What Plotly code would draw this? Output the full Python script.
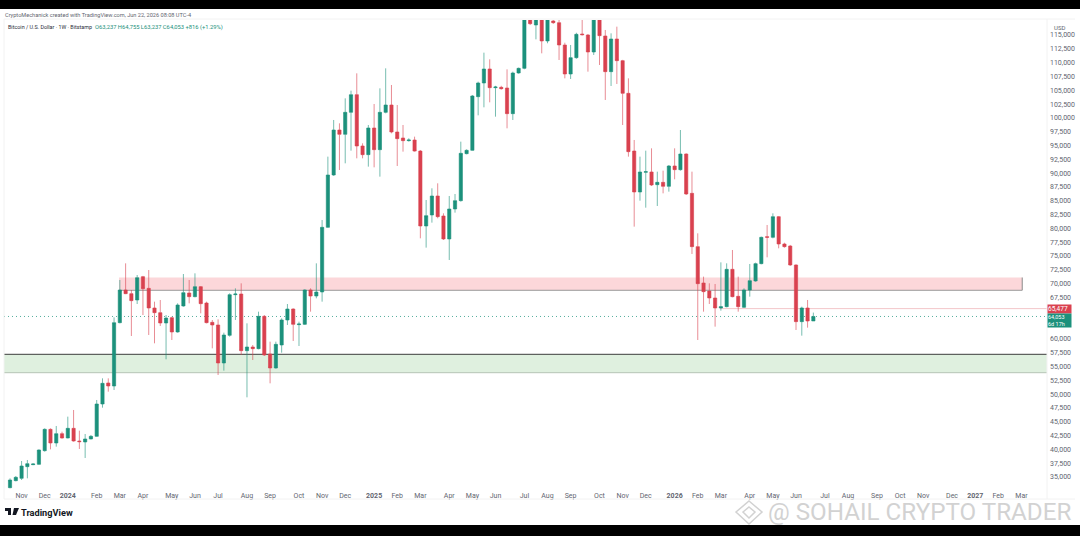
import pandas as pd
import plotly.graph_objects as go

W, H = 1080, 536

# weekly candles, Bitstamp BTCUSD
weeks = pd.date_range("2023-10-23", periods=140, freq="7D")

open_ = [33070, 34337, 34759, 36870, 37232, 37292, 39766, 43627, 41154, 42843,
         42058, 43808, 41515, 41335, 41877, 42360, 48212, 52014, 51470, 62933,
         68845, 68182, 67035, 71258, 69147, 65588, 64743, 62873, 63838, 61244,
         65950, 68303, 67639, 69449, 66492, 62993, 62511, 55633, 60640, 68001,
         68121, 57865, 58529, 58227, 64079, 57262, 54728, 58891, 63416, 65406,
         62571, 62631, 68845, 67759, 68486, 80190, 89661, 97806, 97022, 101004,
         104201, 94910, 93342, 98168, 94247, 101004, 102331, 97444, 96358, 95876,
         95996, 93995, 80431, 82422, 85861, 82241, 78079, 83508, 85017, 93523,
         94126, 103839, 106313, 108847, 105468, 105528, 105408, 100763, 108123, 108967,
         118300, 116810, 118000, 113914, 117534, 117233, 113190, 107942, 110898, 115181,
         115000, 111923, 118400, 114819, 108364, 114276, 110355, 104443, 94004, 86584,
         90144, 90204, 87911, 88333, 87609, 91290, 90626, 93462, 86342, 76690,
         70113, 68666, 67399, 65589, 65830, 72587, 67700, 65710, 68847, 70476,
         73613, 78500, 78379, 82120, 77172, 76811, 73372, 63116, 65589, 63237]
high = [34759, 35180, 37896, 38077, 37450, 40000, 43808, 43808, 44231, 43205,
        45920, 47127, 43385, 42782, 42602, 48936, 52857, 52857, 63898, 70655,
        73672, 68845, 71560, 71400, 72465, 66734, 67035, 64320, 64019, 66432,
        71741, 70655, 71862, 69569, 66734, 63416, 63536, 61123, 68242, 69147,
        70052, 62812, 58891, 64924, 64320, 59494, 59494, 63717, 66311, 65527,
        63114, 68966, 69147, 73672, 81517, 92980, 99616, 99013, 103537, 104925,
        108062, 95393, 98711, 102512, 105347, 108967, 105951, 102331, 98711, 96300,
        96600, 94186, 85137, 87248, 88153, 82724, 85861, 86223, 95695, 94300,
        104141, 106554, 111803, 110596, 105800, 105800, 108786, 108364, 109100, 119500,
        120000, 120200, 119500, 119800, 118100, 117800, 113600, 113190, 115400, 117715,
        115181, 119500, 121000, 115905, 115302, 116509, 110500, 107157, 96000, 92979,
        94065, 94487, 90264, 90445, 91471, 94487, 97805, 93582, 90264, 79103,
        71260, 70053, 69933, 73853, 73673, 76087, 71260, 69149, 73552, 73794,
        78500, 80611, 82723, 82240, 77400, 77000, 73500, 65830, 67037, 64755]
low = [32950, 34215, 34457, 34759, 37150, 37200, 39585, 40007, 40490, 41938,
       41998, 41395, 40068, 38439, 41817, 42300, 47548, 50445, 50746, 62812,
       68100, 60520, 66311, 64320, 60701, 59193, 62330, 56297, 59796, 61123,
       65829, 66432, 67518, 64622, 62812, 58287, 53461, 54246, 60399, 63416,
       57081, 49419, 56176, 58107, 56900, 51953, 54608, 57503, 62511, 59615,
       58710, 62511, 64924, 67337, 66734, 80100, 89500, 90567, 91773, 94066,
       92678, 92678, 91170, 91049, 89360, 100823, 97203, 91291, 93885, 95700,
       93885, 78199, 76510, 81034, 81819, 77897, 74277, 82844, 84835, 93400,
       94066, 100461, 101909, 102814, 100219, 105100, 98108, 99616, 108000, 108800,
       116800, 114216, 111682, 113500, 117000, 110476, 107157, 107037, 110700, 114900,
       108364, 111381, 109570, 103236, 105770, 106132, 98711, 92980, 80310, 85015,
       83748, 87670, 84050, 86342, 86644, 88877, 90445, 86041, 75363, 59797,
       64925, 66313, 62211, 65106, 65710, 67520, 64925, 65600, 67640, 70355,
       73500, 74759, 78198, 76388, 76500, 73200, 61607, 60582, 62030, 63237]
close = [34457, 34940, 36991, 37413, 37352, 39887, 43627, 41154, 42843, 42058,
         43808, 41515, 41395, 41877, 42360, 48212, 51953, 51470, 62933, 68845,
         68182, 66915, 71077, 69087, 65588, 64743, 62873, 63777, 61244, 66131,
         68363, 67639, 69449, 66372, 62933, 62511, 55633, 60701, 68001, 68121,
         57865, 58529, 58227, 64079, 57081, 54728, 59011, 63416, 65406, 62631,
         62692, 68845, 67759, 68483, 80190, 89661, 97806, 97022, 101004, 104201,
         94910, 93342, 98168, 94247, 101004, 102331, 97444, 96238, 95876, 95996,
         93995, 80431, 82302, 85861, 82120, 78079, 83508, 85017, 93583, 94126,
         103960, 106313, 108847, 105468, 105589, 105287, 100763, 108123, 108967, 118300,
         117051, 118000, 113914, 118200, 117233, 113190, 107942, 110898, 115121, 115061,
         111923, 118400, 114880, 108364, 114276, 110355, 104443, 93885, 86584, 90204,
         90265, 87851, 88333, 87609, 91290, 90626, 93462, 86222, 76690, 69993,
         68545, 67399, 65589, 65830, 72587, 67640, 65830, 68847, 70536, 73613,
         78379, 78379, 82120, 77172, 76690, 73372, 63116, 65589, 63237, 64053]

price_ticks = list(range(35000, 115001, 2500))
# these two sit under the price labels on the axis
covered_ticks = [62500, 65000]

time_ticks = ["2023-11-06", "2023-12-04", "2024-01-01", "2024-02-05", "2024-03-04", "2024-04-01",
              "2024-05-06", "2024-06-03", "2024-07-01", "2024-08-05", "2024-09-02", "2024-10-07",
              "2024-11-04", "2024-12-02", "2025-01-06", "2025-02-03", "2025-03-03", "2025-04-07",
              "2025-05-05", "2025-06-02", "2025-07-07", "2025-08-04", "2025-09-01", "2025-10-06",
              "2025-11-03", "2025-12-01", "2026-01-05", "2026-02-02", "2026-03-02", "2026-04-06",
              "2026-05-04", "2026-06-01", "2026-07-06", "2026-08-03", "2026-09-07", "2026-10-05",
              "2026-11-02", "2026-12-07", "2027-01-04", "2027-02-01", "2027-03-01"]
time_labels = ["Nov", "Dec", "<b>2024</b>", "Feb", "Mar", "Apr", "May", "Jun", "Jul", "Aug", "Sep", "Oct",
               "Nov", "Dec", "<b>2025</b>", "Feb", "Mar", "Apr", "May", "Jun", "Jul", "Aug", "Sep", "Oct",
               "Nov", "Dec", "<b>2026</b>", "Feb", "Mar", "Apr", "May", "Jun", "Jul", "Aug", "Sep", "Oct",
               "Nov", "Dec", "<b>2027</b>", "Feb", "Mar"]

# zones and price lines
resistance_zone = (68792, 71108)
support_zone = (53877, 57207)
zone_start = "2024-03-03"
zone_end = "2027-03-02"
prev_close_line = 65477
last_price = close[-1]

GREEN = "#1c917c"
RED = "#d9414f"
TEXT = "#62656f"
FONT = "Roboto, Liberation Sans, sans-serif"


def px(x):
    return x / W


def py(y):
    return 1 - y / H


def path(points):
    return "M " + " L ".join(f"{px(x):.5f},{py(y):.5f}" for x, y in points) + " Z"


fig = go.Figure()

fig.add_trace(go.Candlestick(
    x=weeks, open=open_, high=high, low=low, close=close,
    increasing=dict(line=dict(color="rgba(28,145,124,0.6)", width=1), fillcolor=GREEN),
    decreasing=dict(line=dict(color="rgba(217,65,79,0.6)", width=1), fillcolor=RED),
    whiskerwidth=0,
    hoverinfo="skip",
))

shapes = [
    # zones
    dict(type="rect", xref="x", yref="y", x0=zone_start, x1=zone_end,
         y0=resistance_zone[0], y1=resistance_zone[1], layer="below",
         fillcolor="#fcd7da", line=dict(color="#fcd7da", width=0)),
    dict(type="line", xref="x", yref="y", x0=zone_start, x1=zone_end,
         y0=resistance_zone[0], y1=resistance_zone[0], layer="below",
         line=dict(color="#9a9a9a", width=1)),
    dict(type="line", xref="x", yref="y", x0=zone_end, x1=zone_end,
         y0=resistance_zone[0], y1=resistance_zone[1], layer="below",
         line=dict(color="#8a8a8a", width=1)),
    dict(type="rect", xref="x domain", yref="y", x0=0, x1=1,
         y0=support_zone[0], y1=support_zone[1], layer="below",
         fillcolor="#dff0df", line=dict(width=0)),
    dict(type="line", xref="x domain", yref="y", x0=0, x1=1,
         y0=support_zone[1], y1=support_zone[1], layer="below",
         line=dict(color="#3d3d3d", width=1)),
    dict(type="line", xref="x domain", yref="y", x0=0, x1=1,
         y0=support_zone[0], y1=support_zone[0], layer="below",
         line=dict(color="#b5c4b5", width=1)),
    # price lines
    dict(type="line", xref="x", yref="y", x0="2026-03-01", x1="2027-04-01",
         y0=prev_close_line, y1=prev_close_line, layer="below",
         line=dict(color="#f3c6ca", width=1)),
    dict(type="line", xref="x domain", yref="y", x0=0, x1=1,
         y0=last_price, y1=last_price, layer="below",
         line=dict(color="rgba(28,145,124,0.75)", width=1, dash="1px,3px")),
    # pane borders
    dict(type="line", xref="paper", yref="paper", x0=px(4), x1=px(1075), y0=py(19), y1=py(19),
         line=dict(color="#f2f2f2", width=1)),
    dict(type="line", xref="paper", yref="paper", x0=px(4), x1=px(1075), y0=py(499), y1=py(499),
         line=dict(color="#f2f2f2", width=1)),
    dict(type="line", xref="paper", yref="paper", x0=px(4), x1=px(4), y0=py(19), y1=py(499),
         line=dict(color="#f2f2f2", width=1)),
    dict(type="line", xref="paper", yref="paper", x0=px(1047), x1=px(1047), y0=py(19), y1=py(499),
         line=dict(color="#f2f2f2", width=1)),
    # black bands of the screenshot
    dict(type="rect", xref="paper", yref="paper", x0=0, x1=1, y0=py(9), y1=1,
         fillcolor="#000000", line=dict(width=0)),
    dict(type="rect", xref="paper", yref="paper", x0=0, x1=1, y0=0, y1=py(525),
         fillcolor="#000000", line=dict(width=0)),
    # TradingView mark
    dict(type="path", xref="paper", yref="paper", fillcolor="#131722", line=dict(width=0),
         path=path([(5, 508), (11, 508), (11, 515), (8, 515), (8, 511), (5, 511)])),
    dict(type="path", xref="paper", yref="paper", fillcolor="#131722", line=dict(width=0),
         path=path([(14, 508), (19, 508), (16, 515), (12.5, 515)])),
    # watermark diamond
    dict(type="path", xref="paper", yref="paper", fillcolor="rgba(0,0,0,0)",
         line=dict(color="#d2d2d2", width=1.5),
         path=path([(749, 501), (762, 512), (749, 524), (736, 512)])),
    dict(type="path", xref="paper", yref="paper", fillcolor="rgba(0,0,0,0)",
         line=dict(color="#d2d2d2", width=1.5),
         path=path([(749, 507), (755, 512), (749, 518), (743, 512)])),
]


def note(x, y, text, size=7, color=TEXT, xanchor="left", **kw):
    return dict(xref="paper", yref="paper", x=px(x), y=py(y), text=text, showarrow=False,
                xanchor=xanchor, yanchor="middle", align="left",
                font=dict(family=FONT, size=size, color=color), **kw)


legend_values = f"O{open_[-1]:,} H{high[-1]:,} L{low[-1]:,} C{close[-1]:,} +816 (+1.29%)"

annotations = [
    note(3, 15, "CryptoMechanick created with TradingView.com, Jun 22, 2026 08:08 UTC-4", size=5.6),
    note(6, 27, "Bitcoin / U.S. Dollar · 1W · Bitstamp", size=5.4, color="#2a2e39"),
    note(93, 27, legend_values, size=5.8, color=GREEN),
    note(1052, 27, "USD", size=6),
    note(1059, 309, f"{prev_close_line:,}", size=6.5, color="#ffffff", xanchor="center",
         bgcolor=RED, width=23, height=8, borderpad=0),
    note(1059, 320.5, f"{last_price:,}<br>6d 17h", size=5.5, color="#ffffff", xanchor="center",
         bgcolor=GREEN, width=23, height=13, borderpad=0),
    note(19, 512, "<b>TradingView</b>", size=9.2, color="#131722"),
    note(766, 512, "@ SOHAIL CRYPTO TRADER", size=24.2, color="#d2d2d2"),
]

fig.update_layout(
    width=W, height=H,
    margin=dict(l=0, r=0, t=0, b=0),
    paper_bgcolor="#ffffff",
    plot_bgcolor="rgba(0,0,0,0)",
    showlegend=False,
    dragmode=False,
    boxgap=0.2,
    shapes=shapes,
    annotations=annotations,
    xaxis=dict(
        domain=[px(4), px(1047)],
        anchor="y",
        type="date",
        range=["2023-10-15 17:00", "2027-04-01"],
        rangeslider=dict(visible=False),
        tickmode="array", tickvals=time_ticks, ticktext=time_labels,
        tickangle=0,
        showgrid=False, zeroline=False, showline=False, ticks="",
        tickfont=dict(family=FONT, size=7, color=TEXT),
    ),
    yaxis=dict(
        domain=[py(490), py(20)],
        anchor="x",
        side="right",
        range=[32645, 117714],
        tickmode="array", tickvals=price_ticks,
        ticktext=["" if v in covered_ticks else f"{v:,}" for v in price_ticks],
        ticklabelstandoff=2,
        showgrid=False, zeroline=False, showline=False, ticks="",
        tickfont=dict(family=FONT, size=7, color=TEXT),
    ),
)

fig.write_html("out.html", config=dict(displayModeBar=False),
               post_script="document.body.style.margin='0';")
